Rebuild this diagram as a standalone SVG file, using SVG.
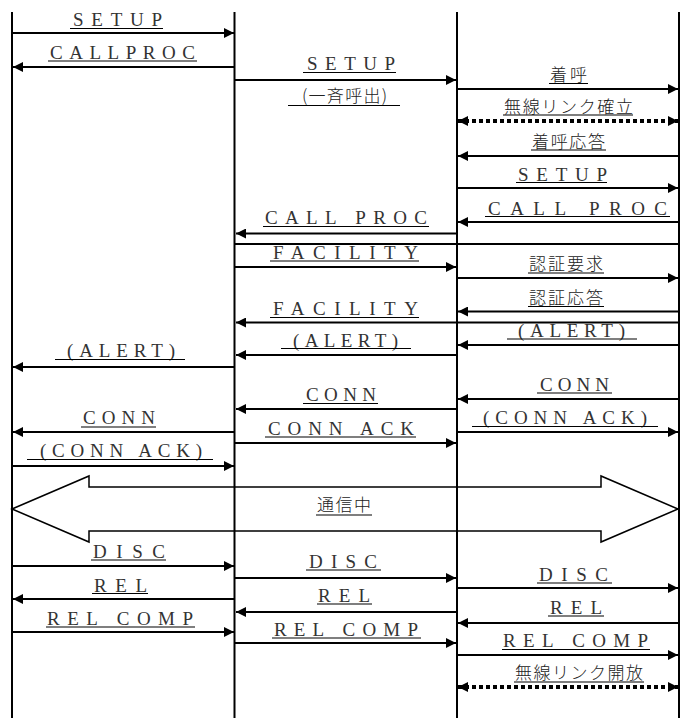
<svg xmlns="http://www.w3.org/2000/svg" width="680" height="718" viewBox="0 0 680 718">
<style>
.life{stroke:#000;stroke-width:2}
.msg{stroke:#000;stroke-width:2;fill:none;marker-end:url(#ah)}
.bar{stroke:#000;stroke-width:2;fill:none}
.dot{stroke:#000;stroke-width:4;stroke-dasharray:4 3;fill:none;marker-start:url(#ah);marker-end:url(#ah)}
.ul{stroke:#000;stroke-width:1.2}
.big{stroke:#000;stroke-width:1.5;fill:none}
.lt{font-family:"Liberation Serif","Times New Roman",serif;font-size:19px;fill:#333}
.jp{font-family:"Noto Sans CJK JP","Noto Sans",sans-serif;font-size:17px;font-weight:300;fill:#222}
</style>
<defs>
<marker id="ah" viewBox="0 0 10 10" refX="10" refY="5" markerWidth="10" markerHeight="10" markerUnits="userSpaceOnUse" orient="auto-start-reverse">
<path d="M0,0 L10,5 L0,10 Z" fill="#000"/>
</marker>
</defs>
<rect width="680" height="718" fill="#fff"/>
<g id="lifeline-1"><line class="life" x1="12" y1="12" x2="12" y2="718"/></g>
<g id="lifeline-2"><line class="life" x1="234.5" y1="12" x2="234.5" y2="718"/></g>
<g id="lifeline-3"><line class="life" x1="457" y1="12" x2="457" y2="718"/></g>
<g id="lifeline-4"><line class="life" x1="679" y1="12" x2="679" y2="718"/></g>
<g id="connectors">
<line class="msg" x1="12" y1="33" x2="234" y2="33"/>
<line class="msg" x1="234" y1="67" x2="13" y2="67"/>
<line class="msg" x1="235" y1="80" x2="456" y2="80"/>
<line class="msg" x1="457" y1="89" x2="678" y2="89"/>
<line class="dot" x1="458" y1="121" x2="678" y2="121"/>
<line class="msg" x1="679" y1="156" x2="458" y2="156"/>
<line class="msg" x1="457" y1="188" x2="678" y2="188"/>
<line class="msg" x1="679" y1="222" x2="458" y2="222"/>
<line class="msg" x1="457" y1="233.5" x2="236" y2="233.5"/>
<line class="bar" x1="234" y1="244" x2="679" y2="244"/>
<line class="msg" x1="235" y1="267" x2="456" y2="267"/>
<line class="msg" x1="457" y1="278" x2="678" y2="278"/>
<line class="msg" x1="679" y1="311.5" x2="458" y2="311.5"/>
<line class="msg" x1="679" y1="322.5" x2="236" y2="322.5"/>
<line class="msg" x1="679" y1="345" x2="458" y2="345"/>
<line class="msg" x1="457" y1="355" x2="236" y2="355"/>
<line class="msg" x1="234" y1="367" x2="13" y2="367"/>
<line class="msg" x1="679" y1="399" x2="458" y2="399"/>
<line class="msg" x1="457" y1="409" x2="236" y2="409"/>
<line class="msg" x1="457" y1="432" x2="678" y2="432"/>
<line class="msg" x1="234" y1="432" x2="13" y2="432"/>
<line class="msg" x1="235" y1="443" x2="456" y2="443"/>
<line class="msg" x1="12" y1="466" x2="234" y2="466"/>
<polygon class="big" points="12,509 89,476 89,487 601,487 601,476 678,509 601,542 601,531 89,531 89,542"/>
<line class="msg" x1="12" y1="566" x2="234" y2="566"/>
<line class="msg" x1="235" y1="578" x2="456" y2="578"/>
<line class="msg" x1="457" y1="588" x2="678" y2="588"/>
<line class="msg" x1="234" y1="599" x2="13" y2="599"/>
<line class="msg" x1="457" y1="612" x2="236" y2="612"/>
<line class="msg" x1="679" y1="623" x2="458" y2="623"/>
<line class="msg" x1="12" y1="632" x2="234" y2="632"/>
<line class="msg" x1="235" y1="643" x2="456" y2="643"/>
<line class="msg" x1="457" y1="655" x2="678" y2="655"/>
<line class="dot" x1="458" y1="687" x2="678" y2="687"/>
</g>
<g id="labels">
<text class="lt" x="73" y="26" textLength="89" lengthAdjust="spacing">SETUP</text>
<line class="ul" x1="70" y1="28.5" x2="163" y2="28.5"/>
<text class="lt" x="50" y="58.5" textLength="145" lengthAdjust="spacing">CALLPROC</text>
<line class="ul" x1="48" y1="61" x2="197" y2="61"/>
<text class="lt" x="307" y="70" textLength="88" lengthAdjust="spacing">SETUP</text>
<line class="ul" x1="303" y1="72.5" x2="396" y2="72.5"/>
<text class="jp" x="302" y="102" textLength="85" lengthAdjust="spacing">(一斉呼出)</text>
<line class="ul" x1="288" y1="105.5" x2="400" y2="105.5"/>
<text class="jp" x="550" y="81" textLength="37" lengthAdjust="spacing">着呼</text>
<line class="ul" x1="549" y1="83.5" x2="588" y2="83.5"/>
<text class="jp" x="504" y="112.5" textLength="129" lengthAdjust="spacing">無線リンク確立</text>
<line class="ul" x1="503" y1="115" x2="633" y2="115"/>
<text class="jp" x="532" y="147.5" textLength="73" lengthAdjust="spacing">着呼応答</text>
<line class="ul" x1="531" y1="150" x2="606" y2="150"/>
<text class="lt" x="518" y="180.5" textLength="89" lengthAdjust="spacing">SETUP</text>
<line class="ul" x1="516" y1="182.5" x2="607" y2="182.5"/>
<text class="lt" x="488" y="214.5" textLength="179" lengthAdjust="spacing">CALL PROC</text>
<line class="ul" x1="485" y1="216.5" x2="670" y2="216.5"/>
<text class="lt" x="265" y="224" textLength="162" lengthAdjust="spacing">CALL PROC</text>
<line class="ul" x1="263" y1="226.5" x2="429" y2="226.5"/>
<text class="lt" x="273" y="258.5" textLength="145" lengthAdjust="spacing">FACILITY</text>
<line class="ul" x1="270" y1="261" x2="419" y2="261"/>
<text class="jp" x="529" y="270" textLength="74" lengthAdjust="spacing">認証要求</text>
<line class="ul" x1="528" y1="273" x2="604" y2="273"/>
<text class="jp" x="529" y="303.5" textLength="74" lengthAdjust="spacing">認証応答</text>
<line class="ul" x1="528" y1="306.5" x2="604" y2="306.5"/>
<text class="lt" x="273" y="315" textLength="145" lengthAdjust="spacing">FACILITY</text>
<line class="ul" x1="270" y1="317.5" x2="419" y2="317.5"/>
<text class="lt" x="518" y="337" textLength="107" lengthAdjust="spacing">(ALERT)</text>
<line class="ul" x1="507" y1="339" x2="637" y2="339"/>
<text class="lt" x="293" y="346.5" textLength="105" lengthAdjust="spacing">(ALERT)</text>
<line class="ul" x1="281" y1="348.5" x2="411" y2="348.5"/>
<text class="lt" x="67" y="357" textLength="108" lengthAdjust="spacing">(ALERT)</text>
<line class="ul" x1="55" y1="359.5" x2="185" y2="359.5"/>
<text class="lt" x="540" y="390.5" textLength="69" lengthAdjust="spacing">CONN</text>
<line class="ul" x1="537" y1="393" x2="612" y2="393"/>
<text class="lt" x="306" y="401" textLength="70" lengthAdjust="spacing">CONN</text>
<line class="ul" x1="303" y1="403.5" x2="378" y2="403.5"/>
<text class="lt" x="83" y="424" textLength="72" lengthAdjust="spacing">CONN</text>
<line class="ul" x1="81" y1="427" x2="156" y2="427"/>
<text class="lt" x="483" y="424" textLength="164" lengthAdjust="spacing">(CONN ACK)</text>
<line class="ul" x1="472" y1="426.5" x2="658" y2="426.5"/>
<text class="lt" x="268" y="434.5" textLength="146" lengthAdjust="spacing">CONN ACK</text>
<line class="ul" x1="265" y1="437" x2="416" y2="437"/>
<text class="lt" x="40" y="457" textLength="162" lengthAdjust="spacing">(CONN ACK)</text>
<line class="ul" x1="27" y1="459.5" x2="213" y2="459.5"/>
<text class="jp" x="317" y="511" textLength="54" lengthAdjust="spacing">通信中</text>
<line class="ul" x1="316" y1="515" x2="372" y2="515"/>
<text class="lt" x="93" y="558" textLength="72" lengthAdjust="spacing">DISC</text>
<line class="ul" x1="91" y1="560" x2="166" y2="560"/>
<text class="lt" x="309" y="567.5" textLength="68" lengthAdjust="spacing">DISC</text>
<line class="ul" x1="306" y1="570" x2="381" y2="570"/>
<text class="lt" x="539" y="580.5" textLength="69" lengthAdjust="spacing">DISC</text>
<line class="ul" x1="537" y1="583" x2="612" y2="583"/>
<text class="lt" x="94" y="591.5" textLength="53" lengthAdjust="spacing">REL</text>
<line class="ul" x1="92" y1="593.5" x2="148" y2="593.5"/>
<text class="lt" x="318" y="602" textLength="52" lengthAdjust="spacing">REL</text>
<line class="ul" x1="317" y1="604" x2="372" y2="604"/>
<text class="lt" x="550" y="614" textLength="52" lengthAdjust="spacing">REL</text>
<line class="ul" x1="548" y1="616" x2="604" y2="616"/>
<text class="lt" x="47" y="625" textLength="146" lengthAdjust="spacing">REL COMP</text>
<line class="ul" x1="46" y1="627" x2="195" y2="627"/>
<text class="lt" x="274" y="636" textLength="144" lengthAdjust="spacing">REL COMP</text>
<line class="ul" x1="272" y1="638" x2="421" y2="638"/>
<text class="lt" x="503" y="647" textLength="145" lengthAdjust="spacing">REL COMP</text>
<line class="ul" x1="502" y1="649.5" x2="650" y2="649.5"/>
<text class="jp" x="515" y="679" textLength="128" lengthAdjust="spacing">無線リンク開放</text>
<line class="ul" x1="514" y1="682" x2="644" y2="682"/>
</g>
</svg>
